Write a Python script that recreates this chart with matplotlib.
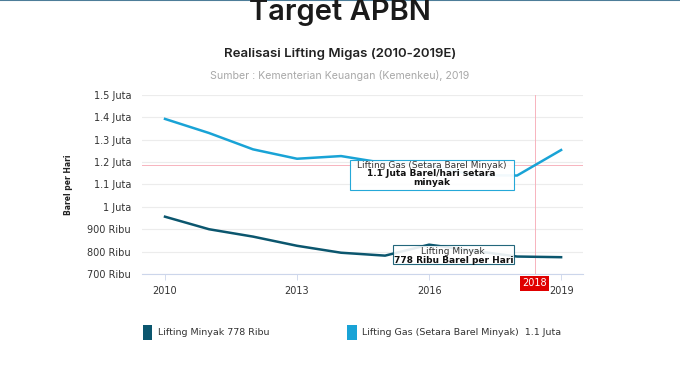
import matplotlib.pyplot as plt
import numpy as np

# data
years = [2010, 2011, 2012, 2013, 2014, 2015, 2016, 2017, 2018, 2019]
minyak = [956, 900, 867, 826, 795, 782, 831, 804, 778, 775]              # ribu barel/hari
gas = [1393, 1330, 1257, 1215, 1227, 1195, 1188, 1142, 1140, 1254]       # ribu barel setara minyak
ytick_vals = [700, 800, 900, 1000, 1100, 1200, 1300, 1400, 1500]
ytick_labels = ['700 Ribu', '800 Ribu', '900 Ribu', '1 Juta', '1.1 Juta',
                '1.2 Juta', '1.3 Juta', '1.4 Juta', '1.5 Juta']
xtick_vals = [2010, 2013, 2016, 2019]

c_minyak = '#0b566e'
c_gas = '#19a3d6'
c_cross = '#f7b3bd'

fig = plt.figure(figsize=(6.8, 3.71), dpi=100)
fig.patch.set_facecolor('white')

# thin strip at the very top
fig.add_artist(plt.Line2D([0, 1], [0.999, 0.999], color='#4d7d99', lw=1.5))

fig.text(0.5, 0.965, 'Target APBN', ha='center', va='center', fontsize=21,
         family='Inter', weight='semibold', color='#1a1a1a')
fig.text(0.5, 0.855, 'Realisasi Lifting Migas (2010-2019E)', ha='center', va='center',
         fontsize=9.5, family='Inter', weight='semibold', color='#222222')
fig.text(0.5, 0.797, 'Sumber : Kementerian Keuangan (Kemenkeu), 2019', ha='center',
         va='center', fontsize=7.6, family='Inter', color='#a8a8a8')

ax = fig.add_axes([0.209, 0.2615, 0.6485, 0.4825])
ax.set_xlim(2009.48, 2019.5)
ax.set_ylim(700, 1500)

for v in ytick_vals:
    ax.axhline(v, color='#ececec', lw=0.8, zorder=0)

# hover crosshair
ax.axvline(2018.4, color=c_cross, lw=0.7, zorder=1)
ax.axhline(1185, color=c_cross, lw=0.7, zorder=1)

ax.plot(years, gas, color=c_gas, lw=1.8, zorder=3)
ax.plot(years, minyak, color=c_minyak, lw=1.8, zorder=3)

ax.set_yticks(ytick_vals)
ax.set_yticklabels(ytick_labels)
ax.set_xticks(xtick_vals)
ax.set_xticklabels([str(x) for x in xtick_vals])
ax.tick_params(axis='y', length=0, labelsize=7, colors='#333333', pad=8)
ax.tick_params(axis='x', length=4, width=0.6, color='#ccd6eb', labelsize=7,
               labelcolor='#333333', pad=5)
for s in ['top', 'right', 'left']:
    ax.spines[s].set_visible(False)
ax.spines['bottom'].set_color('#ccd6eb')
ax.spines['bottom'].set_linewidth(0.8)

ax.set_ylabel('Barel per Hari', fontsize=5.5, weight='bold', color='#222222', labelpad=10)

# tooltips
ax.add_patch(plt.Rectangle((2014.2, 1075), 3.72, 134, facecolor='white', alpha=0.95,
                           edgecolor=c_gas, lw=0.8, zorder=5))
ax.text(2016.06, 1187, 'Lifting Gas (Setara Barel Minyak)', ha='center', va='center',
        fontsize=6.5, color='#333333', zorder=6)
ax.text(2016.06, 1168, '1.1 Juta Barel/hari setara\nminyak', ha='center', va='top',
        fontsize=6.5, weight='bold', color='#111111', linespacing=0.95, zorder=6)

ax.add_patch(plt.Rectangle((2015.18, 745), 2.75, 85, facecolor='white', alpha=0.9,
                           edgecolor=c_minyak, lw=0.8, zorder=5))
ax.text(2016.55, 800, 'Lifting Minyak', ha='center', va='center',
        fontsize=6.5, color='#333333', zorder=6)
ax.text(2016.55, 762, '778 Ribu Barel per Hari', ha='center', va='center',
        fontsize=6.5, weight='bold', color='#111111', zorder=6)

# x crosshair label
ax.text(2018.4, 680, '2018', ha='center', va='top', fontsize=7, color='white',
        bbox=dict(boxstyle='square,pad=0.25', facecolor='#e00000', edgecolor='none'),
        clip_on=False, zorder=7)

# legend
fig.patches.append(plt.Rectangle((0.210, 0.083), 0.0135, 0.04, transform=fig.transFigure,
                                 facecolor=c_minyak, edgecolor='none', figure=fig))
fig.text(0.232, 0.103, 'Lifting Minyak 778 Ribu', fontsize=6.8, va='center', color='#333333')
fig.patches.append(plt.Rectangle((0.511, 0.083), 0.0135, 0.04, transform=fig.transFigure,
                                 facecolor=c_gas, edgecolor='none', figure=fig))
fig.text(0.532, 0.103, 'Lifting Gas (Setara Barel Minyak)  1.1 Juta', fontsize=6.8,
         va='center', color='#333333')

fig.savefig('out.png', dpi=100, facecolor='white')
